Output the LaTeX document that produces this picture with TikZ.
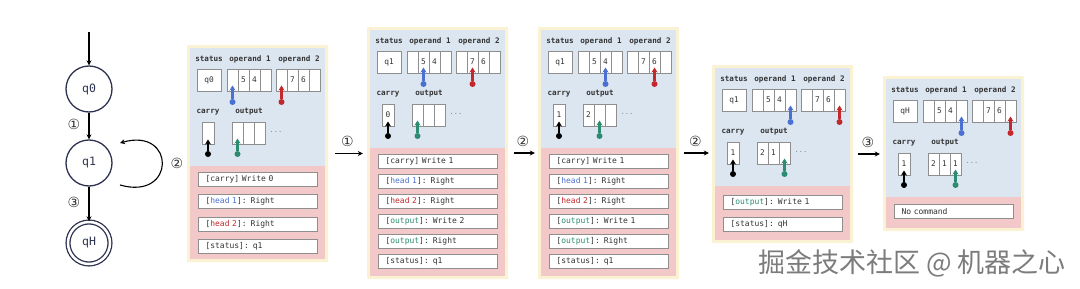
\documentclass[tikz,border=0pt]{standalone}
\usepackage{fontspec}
\setmonofont{DejaVu Sans Mono}
\newfontfamily\symfont{DejaVu Sans}
\newfontfamily\cjkfont{Noto Sans CJK SC}
\usetikzlibrary{arrows.meta,calc}
\definecolor{frameY}{HTML}{FBF1D3}
\definecolor{regB}{HTML}{DCE6F1}
\definecolor{regR}{HTML}{F3C8C8}
\definecolor{cellE}{HTML}{8E8E8E}
\definecolor{hBlue}{HTML}{4A70D2}
\definecolor{hRed}{HTML}{C3282C}
\definecolor{hGreen}{HTML}{2C8C72}
\definecolor{txt}{HTML}{333333}
\definecolor{navy}{HTML}{2E3250}
\definecolor{wmark}{HTML}{7C7C7C}
\tikzset{
  lbl/.style={font=\ttfamily\bfseries\fontsize{7.6}{9}\selectfont, text=txt, inner sep=0pt},
  cellbox/.style={draw=cellE, fill=white, line width=1pt, minimum width=11pt, minimum height=22pt, inner sep=0pt, font=\ttfamily\fontsize{7.8}{9}\selectfont, text=txt},
  cmdbox/.style={draw=cellE, fill=white, line width=1pt, minimum height=14pt, inner xsep=7pt, inner ysep=0pt, text width=105pt, align=left, font=\ttfamily\fontsize{8}{9}\selectfont, text=txt},
  headarrow/.style={line width=2.2pt, -{Stealth[length=5pt,width=6pt]}},
  headdot/.style={circle, inner sep=0pt, minimum size=6pt},
  dotsn/.style={font=\ttfamily\fontsize{7}{8}\selectfont, text=gray, inner sep=0pt},
  yframe/.style={fill=frameY, rounded corners=1pt, inner sep=0pt, minimum width=141pt},
  state/.style={circle, draw=navy, fill=white, line width=1.3pt, minimum size=46pt, inner sep=0pt, font=\ttfamily\fontsize{11.5}{12}\selectfont, text=navy},
  flow/.style={line width=1.2pt, -{Stealth[length=5pt,width=5pt]}},
  circnum/.style={font=\symfont\fontsize{14}{15}\selectfont, text=txt, inner sep=0pt},
}
% #1 id, #2 x,y, #3 status, #4 op head, #5 carry, #6 #7 #8 output, #9 output head
\newcommand\tmpanel[9]{%
\begin{scope}[shift={(#2)}]
  \node[lbl] (#1sl) at (19,11) {status};
  \node[lbl] (#1al) at (60,11) {operand 1};
  \node[lbl] (#1bl) at (109,11) {operand 2};
  \node[cellbox, minimum width=24pt] (#1s) at (19,32) {#3};
  \foreach \v [count=\i from 0] in {{},5,4,{}} {\node[cellbox] (#1a\i) at ({42.5+11*\i},32) {\v};}
  \foreach \v [count=\i from 0] in {{},7,6,{}} {\node[cellbox] (#1b\i) at ({91.5+11*\i},32) {\v};}
  \node[lbl] (#1cl) at (18,64) {carry};
  \node[lbl] (#1ol) at (59,64) {output};
  \node[cellbox, minimum width=12pt] (#1c) at (18,85) {#5};
  \node[cellbox] (#1o0) at (47.5,85) {#6};
  \node[cellbox] (#1o1) at (58.5,85) {#7};
  \node[cellbox] (#1o2) at (69.5,85) {#8};
  \node[dotsn] (#1od) at (86,84) {...};
  \node[headdot, fill=hBlue] (#1ah) at ({42.5+11*#4},54) {};
  \draw[headarrow, hBlue] (#1ah) -- ([yshift=6pt]#1a#4.south);
  \node[headdot, fill=hRed] (#1bh) at ({91.5+11*#4},54) {};
  \draw[headarrow, hRed] (#1bh) -- ([yshift=6pt]#1b#4.south);
  \node[headdot, fill=black] (#1ch) at (18,106) {};
  \draw[headarrow, black] (#1ch) -- ([yshift=5pt]#1c.south);
  \node[headdot, fill=hGreen] (#1oh) at ({47.5+11*#9},106) {};
  \draw[headarrow, hGreen] (#1oh) -- ([yshift=6pt]#1o#9.south);
\end{scope}}
\newcommand\hb[1]{[\textcolor{hBlue}{#1}]}
\newcommand\hr[1]{[\textcolor{hRed}{#1}]}
\newcommand\hg[1]{[\textcolor{hGreen}{#1}]}
\begin{document}
\begin{tikzpicture}[x=1pt,y=-1pt]
\useasboundingbox (0,0) rectangle (1080,289);
\fill[white] (0,0) rectangle (1080,289);

% ---------- state diagram ----------
\coordinate (init) at (89,32);
\node[state] (q0) at (89,89) {q0};
\node[state] (q1) at (89,163) {q1};
\node[state, minimum size=42pt, double=white, double distance=2.5pt] (qH) at (89,243) {qH};
\draw[flow, line width=1.1pt] (init) -- (q0.north);
\draw[flow, line width=1.1pt] (q0.south) -- (q1.north);
\draw[flow, line width=1.1pt] (q1.south) -- (qH.north);
\node[circnum] (l1) at (74,124) {①};
\node[circnum] (l3) at (74,202) {③};
\coordinate (loopS) at (120,185);
\coordinate (loopE) at (120,143);
\draw[flow, line width=1.1pt] (loopS) .. controls (176,201) and (176,127) .. (loopE);
\node[circnum] (l2) at (177,163) {②};

% ---------- frames ----------
\node[yframe, minimum height=217pt] (pA) at (257.5,153.5) {};
\node[yframe, minimum height=252pt] (pB) at (437.5,153) {};
\node[yframe, minimum height=252pt] (pC) at (608.5,153) {};
\node[yframe, minimum height=178pt] (pD) at (782.5,154) {};
\node[yframe, minimum height=155pt] (pE) at (953.5,153.5) {};

\fill[regB] (190,48) rectangle (325,166);  \fill[regR] (190,166) rectangle (325,259);
\fill[regB] (370,30) rectangle (505,148);  \fill[regR] (370,148) rectangle (505,276);
\fill[regB] (541,30) rectangle (676,148);  \fill[regR] (541,148) rectangle (676,276);
\fill[regB] (715,68) rectangle (850,186);  \fill[regR] (715,186) rectangle (850,240);
\fill[regB] (886,79) rectangle (1021,197); \fill[regR] (886,197) rectangle (1021,228);

% ---------- tapes ----------
\tmpanel{pA}{190,48}{q0}{0}{}{}{}{}{0}
\tmpanel{pB}{370,30}{q1}{1}{0}{}{}{}{0}
\tmpanel{pC}{541,30}{q1}{2}{1}{2}{}{}{1}
\tmpanel{pD}{715,68}{q1}{3}{1}{2}{1}{}{2}
\tmpanel{pE}{886,79}{qH}{3}{1}{2}{1}{1}{2}

% ---------- commands ----------
\node[cmdbox] (pAc1) at (258,179) {[carry] Write 0};
\node[cmdbox] (pAc2) at (258,201.5) {\hb{head 1}: Right};
\node[cmdbox] (pAc3) at (258,224) {\hr{head 2}: Right};
\node[cmdbox] (pAc4) at (258,246.5) {[status]: q1};

\node[cmdbox] (pBc1) at (438,161) {[carry] Write 1};
\node[cmdbox] (pBc2) at (438,181) {\hb{head 1}: Right};
\node[cmdbox] (pBc3) at (438,201) {\hr{head 2}: Right};
\node[cmdbox] (pBc4) at (438,221) {\hg{output}: Write 2};
\node[cmdbox] (pBc5) at (438,241) {\hg{output}: Right};
\node[cmdbox] (pBc6) at (438,261) {[status]: q1};

\node[cmdbox] (pCc1) at (609,161) {[carry] Write 1};
\node[cmdbox] (pCc2) at (609,181) {\hb{head 1}: Right};
\node[cmdbox] (pCc3) at (609,201) {\hr{head 2}: Right};
\node[cmdbox] (pCc4) at (609,221) {\hg{output}: Write 1};
\node[cmdbox] (pCc5) at (609,241) {\hg{output}: Right};
\node[cmdbox] (pCc6) at (609,261) {[status]: q1};

\node[cmdbox] (pDc1) at (783,202) {\hg{output}: Write 1};
\node[cmdbox] (pDc2) at (783,224) {[status]: qH};

\node[cmdbox] (pEc1) at (954,211.5) {No command};

% ---------- transitions between panels ----------
\draw[flow, shorten <=7pt, shorten >=4pt] (pA.east) -- (pA.east -| pB.west) node[circnum, midway, above=6pt] (tA) {①};
\draw[flow, shorten <=6pt, shorten >=3pt] (pB.east) -- (pB.east -| pC.west) node[circnum, midway, above=6pt] (tB) {②};
\draw[flow, shorten <=5pt, shorten >=3pt] (pC.east) -- (pC.east -| pD.west) node[circnum, midway, above=6pt] (tC) {②};
\draw[flow, shorten <=5pt, shorten >=3pt] (pD.east) -- (pD.east -| pE.west) node[circnum, midway, above=6pt] (tD) {③};

% ---------- watermark ----------
\node[font=\cjkfont\fontsize{27}{29}\selectfont, text=wmark, inner sep=0pt] (wm) at (912,263) {掘金技术社区 @ 机器之心};
\end{tikzpicture}
\end{document}
